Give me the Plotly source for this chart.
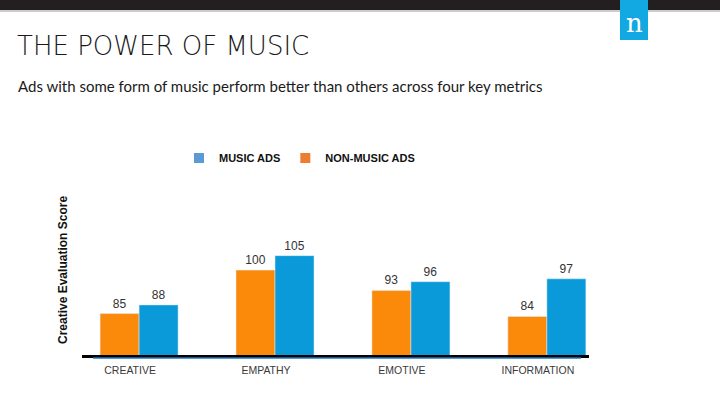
import plotly.graph_objects as go

categories = ["CREATIVE", "EMPATHY", "EMOTIVE", "INFORMATION"]
non_music = [85, 100, 93, 84]
music = [88, 105, 96, 97]
series_names = ["NON-MUSIC ADS", "MUSIC ADS"]

title_text = "THE POWER OF MUSIC"
subtitle_text = "Ads with some form of music perform better than others across four key metrics"
y_title = "Creative Evaluation Score"

ORANGE = "#FB8A0B"
BLUE = "#0A9AD9"
LEG_BLUE = "#5B9BD5"
LEG_ORANGE = "#ED7D31"

L, R, T, B = 82, 131, 200, 39
W, H = 720, 394
pw, ph = W - L - R, H - T - B

def px(xp):
    return (xp - L) / pw

def py(yp):
    return (H - B - yp) / ph

fig = go.Figure()
xs = list(range(len(categories)))
fig.add_trace(go.Bar(x=xs, y=non_music, name=series_names[0], marker_color=ORANGE,
                     text=non_music, textposition="outside", showlegend=False,
                     textfont=dict(size=12, color="#333333", family="Liberation Sans"),
                     cliponaxis=False))
fig.add_trace(go.Bar(x=xs, y=music, name=series_names[1], marker_color=BLUE,
                     text=music, textposition="outside", showlegend=False,
                     textfont=dict(size=12, color="#333333", family="Liberation Sans"),
                     cliponaxis=False))
# legend entries
fig.add_trace(go.Scatter(x=[None], y=[None], mode="markers", name=series_names[1],
                         marker=dict(symbol="square", size=10, color=LEG_BLUE)))
fig.add_trace(go.Scatter(x=[None], y=[None], mode="markers", name=series_names[0],
                         marker=dict(symbol="square", size=10, color=LEG_ORANGE)))

shapes = [
    # top dark band
    dict(type="rect", xref="paper", yref="paper", x0=px(-5), x1=px(W + 5),
         y0=py(-5), y1=py(10), fillcolor="#231F20", line=dict(width=0), layer="above"),
    dict(type="line", xref="paper", yref="paper", x0=px(-5), x1=px(W + 5),
         y0=py(11), y1=py(11), line=dict(color="#9a9a9a", width=1)),
    # logo box
    dict(type="rect", xref="paper", yref="paper", x0=px(620), x1=px(648),
         y0=py(-5), y1=py(40), fillcolor="#12A8E2", line=dict(width=0), layer="above"),
    # blue underline under the axis
    dict(type="line", xref="paper", yref="paper", x0=px(93), x1=px(581),
         y0=py(358), y1=py(358), line=dict(color="#1F78C0", width=1.5)),
]

annotations = [
    dict(text=title_text, xref="paper", yref="paper", x=px(15), y=py(46),
         xanchor="left", yanchor="middle", showarrow=False,
         font=dict(family="DejaVu Sans", size=26, color="#1a1a1a", weight=200)),
    dict(text=subtitle_text, xref="paper", yref="paper", x=px(16), y=py(86),
         xanchor="left", yanchor="middle", showarrow=False,
         font=dict(family="Lato", size=15, color="#1a1a1a")),
    dict(text="n", xref="paper", yref="paper", x=px(634), y=py(23),
         xanchor="center", yanchor="middle", showarrow=False,
         font=dict(family="DejaVu Serif", size=26, color="white")),
    dict(text="<b>" + y_title + "</b>", xref="paper", yref="paper", x=px(63), y=py(270),
         xanchor="center", yanchor="middle", showarrow=False, textangle=-90,
         font=dict(family="Liberation Sans", size=12, color="#111111")),
]

fig.update_layout(
    width=W, height=H,
    margin=dict(l=L, r=R, t=T, b=B, pad=0),
    paper_bgcolor="white", plot_bgcolor="white",
    barmode="group", bargap=0.426, bargroupgap=0,
    shapes=shapes, annotations=annotations,
    showlegend=True,
    legend=dict(orientation="h", x=px(179), y=py(158), xanchor="left", yanchor="middle",
                traceorder="normal", itemwidth=30,
                font=dict(family="Liberation Sans", size=11, color="#111111", weight="bold"),
                bgcolor="rgba(0,0,0,0)"),
    xaxis=dict(range=[-0.42, 3.31], tickmode="array", tickvals=xs, ticktext=categories,
               showline=True, linecolor="black", linewidth=2.5, ticks="", showgrid=False,
               zeroline=False, ticklabelshift=-9, ticklabelstandoff=4,
               tickfont=dict(family="Liberation Sans", size=10.5, color="#3a3a3a")),
    yaxis=dict(range=[70.7, 124.2], showticklabels=False, showgrid=False, zeroline=False,
               showline=False, ticks=""),
)

fig.write_html("out.html", config={"displayModeBar": False},
               post_script="document.body.style.margin='0px';")
